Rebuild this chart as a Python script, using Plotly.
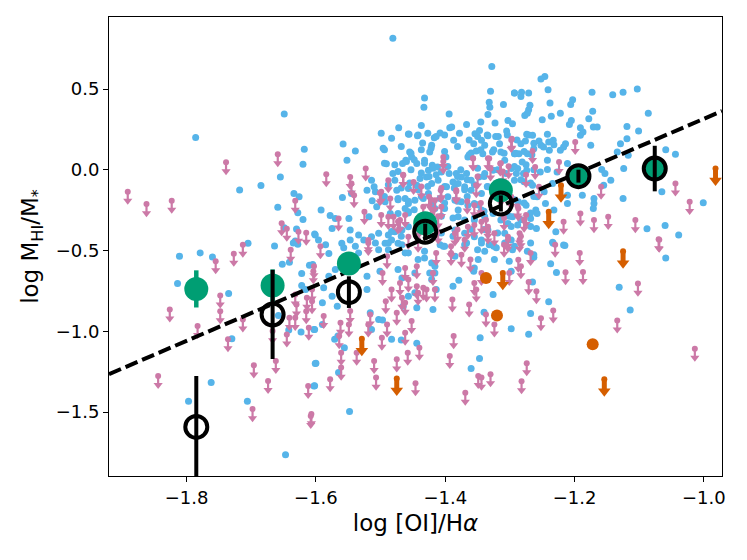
import plotly.graph_objects as go

# colours (seaborn colorblind)
BLUE = '#56B4E9'
PINK = '#CC79A7'
ORANGE = '#D55E00'
GREEN = '#009E73'

# detections (blue dots): (log [OI]/Ha, log MHI/M*)
blue_pts = [
    (-1.786, 0.200), (-1.649, 0.346), (-1.618, 0.128), (-1.620, 0.035), (-1.655, -0.045),
    (-1.685, -0.097), (-1.718, -0.125), (-1.634, -0.146), (-1.626, -0.167), (-1.659, -0.232),
    (-1.628, -0.265), (-1.620, -0.307), (-1.630, -0.366), (-1.649, -0.358), (-1.602, -0.397),
    (-1.705, -0.455), (-1.664, -0.471), (-1.632, -0.440), (-1.628, -0.460),
    (-1.811, -0.535), (-1.779, -0.514), (-1.760, -0.539), (-1.814, -0.704), (-1.735, -0.765),
    (-1.730, -1.045), (-1.762, -1.317), (-1.797, -1.432), (-1.706, -1.432), (-1.647, -1.763),
    (-1.652, -0.585), (-1.641, -0.572), (-1.622, -0.642), (-1.610, -0.591), (-1.622, -0.716),
    (-1.616, -0.741), (-1.658, -0.901), (-1.642, -0.992), (-1.623, -1.004), (-1.603, -0.988),
    (-1.601, -1.198), (-1.603, -1.338), (-1.635, -0.453),
    (-1.481, 0.814), (-1.328, 0.639), (-1.330, 0.487), (-1.293, 0.475), (-1.432, 0.444),
    (-1.433, 0.388), (-1.332, 0.419), (-1.331, 0.388), (-1.310, 0.405), (-1.334, 0.343),
    (-1.394, 0.345), (-1.472, 0.261), (-1.437, 0.275), (-1.456, 0.220), (-1.443, 0.211),
    (-1.393, 0.261), (-1.390, 0.265), (-1.367, 0.281), (-1.345, 0.296), (-1.323, 0.290),
    (-1.303, 0.306), (-1.558, 0.160), (-1.539, 0.117), (-1.552, 0.059), (-1.494, 0.125),
    (-1.491, 0.037), (-1.435, 0.166), (-1.417, 0.199), (-1.408, 0.228), (-1.387, 0.183),
    (-1.421, 0.152), (-1.354, 0.224), (-1.347, 0.244), (-1.334, 0.211), (-1.318, 0.207),
    (-1.305, 0.240), (-1.344, 0.183), (-1.339, 0.152), (-1.356, 0.162), (-1.360, 0.104),
    (-1.365, 0.080), (-1.352, 0.117), (-1.342, 0.100), (-1.327, 0.111), (-1.316, 0.162),
    (-1.314, 0.111), (-1.293, 0.100), (-1.455, 0.111), (-1.466, 0.039), (-1.461, 0.059),
    (-1.452, 0.080), (-1.444, 0.039), (-1.432, 0.059), (-1.424, 0.111), (-1.420, 0.028),
    (-1.412, 0.018), (-1.399, 0.080), (-1.426, -0.003), (-1.406, -0.013), (-1.394, -0.023),
    (-1.383, -0.023), (-1.375, -0.044), (-1.367, -0.023), (-1.360, -0.064), (-1.348, -0.044),
    (-1.339, -0.023), (-1.326, -0.003), (-1.308, 0.059), (-1.306, -0.023), (-1.298, 0.008),
    (-1.290, -0.023), (-1.514, -0.064), (-1.510, -0.105), (-1.521, -0.126), (-1.508, -0.136),
    (-1.481, -0.023), (-1.478, -0.064), (-1.475, -0.126), (-1.457, -0.116), (-1.444, -0.095),
    (-1.439, -0.054), (-1.429, -0.044), (-1.421, -0.085), (-1.411, -0.064), (-1.398, -0.105),
    (-1.388, -0.075), (-1.380, -0.085), (-1.370, -0.105), (-1.360, -0.126), (-1.344, -0.147),
    (-1.334, -0.105), (-1.559, -0.171), (-1.545, -0.147), (-1.513, -0.192), (-1.506, -0.229),
    (-1.493, -0.198), (-1.473, -0.177), (-1.462, -0.177), (-1.457, -0.208), (-1.447, -0.188),
    (-1.434, -0.177), (-1.426, -0.147), (-1.419, -0.208), (-1.408, -0.177), (-1.396, -0.167),
    (-1.385, -0.188), (-1.375, -0.198), (-1.365, -0.219), (-1.355, -0.208), (-1.344, -0.249),
    (-1.380, -0.249), (-1.401, -0.239), (-1.416, -0.239), (-1.462, -0.239), (-1.457, -0.260),
    (-1.473, -0.270), (-1.485, -0.270), (-1.592, -0.249), (-1.578, -0.282), (-1.570, -0.301),
    (-1.549, -0.301), (-1.518, -0.291), (-1.575, -0.363), (-1.547, -0.373), (-1.534, -0.404),
    (-1.526, -0.435), (-1.514, -0.414), (-1.503, -0.393), (-1.488, -0.404), (-1.478, -0.383),
    (-1.467, -0.373), (-1.457, -0.352), (-1.380, -0.291), (-1.370, -0.311), (-1.355, -0.311),
    (-1.339, -0.291), (-1.326, -0.270), (-1.314, -0.311), (-1.303, -0.332), (-1.296, -0.291),
    (-1.601, -0.404), (-1.596, -0.435), (-1.560, -0.455), (-1.547, -0.435), (-1.493, -0.455),
    (-1.483, -0.435), (-1.473, -0.455), (-1.385, -0.373), (-1.370, -0.393), (-1.355, -0.414),
    (-1.344, -0.435), (-1.334, -0.373), (-1.308, -0.393), (-1.298, -0.435),
    (-1.585, -0.463), (-1.580, -0.518), (-1.557, -0.483), (-1.539, -0.473), (-1.534, -0.514),
    (-1.508, -0.453), (-1.503, -0.494), (-1.488, -0.453), (-1.467, -0.463), (-1.457, -0.514),
    (-1.442, -0.555), (-1.432, -0.545), (-1.421, -0.576), (-1.408, -0.463), (-1.403, -0.473),
    (-1.367, -0.453), (-1.344, -0.453), (-1.332, -0.463), (-1.321, -0.483), (-1.308, -0.453),
    (-1.296, -0.494), (-1.339, -0.504), (-1.324, -0.555), (-1.385, -0.535), (-1.349, -0.555),
    (-1.355, -0.607), (-1.301, -0.566), (-1.298, -0.627), (-1.605, -0.586), (-1.580, -0.658),
    (-1.570, -0.617), (-1.521, -0.658), (-1.501, -0.627), (-1.473, -0.617), (-1.467, -0.669),
    (-1.447, -0.638), (-1.424, -0.638), (-1.416, -0.597), (-1.588, -0.730), (-1.575, -0.782),
    (-1.567, -0.844), (-1.590, -0.823), (-1.521, -0.741), (-1.457, -0.782), (-1.447, -0.761),
    (-1.465, -0.844), (-1.444, -0.854), (-1.419, -0.864), (-1.414, -0.741), (-1.388, -0.720),
    (-1.379, -0.683), (-1.516, -0.885), (-1.503, -0.926), (-1.497, -0.930), (-1.514, -0.988),
    (-1.590, -0.957), (-1.602, -0.988), (-1.571, -1.049), (-1.566, -1.029), (-1.556, -1.101),
    (-1.483, -1.049), (-1.468, -1.053), (-1.444, -1.074), (-1.600, -1.197), (-1.565, -1.255),
    (-1.602, -1.337), (-1.548, -1.496), (-1.356, -0.627), (-1.326, -0.772), (-1.340, -0.881),
    (-1.298, -0.983), (-1.346, -1.039), (-1.347, -1.167), (-1.360, -1.230), (-1.416, -0.638),
    (-1.421, -0.679),
    (-1.252, 0.563), (-1.246, 0.578), (-1.293, 0.475), (-1.282, 0.481), (-1.271, 0.475),
    (-1.283, 0.454), (-1.241, 0.495), (-1.173, 0.481), (-1.141, 0.465), (-1.125, 0.481),
    (-1.103, 0.500), (-1.238, 0.413), (-1.269, 0.399), (-1.271, 0.372), (-1.203, 0.434),
    (-1.206, 0.405), (-1.172, 0.362), (-1.086, 0.351), (-1.277, 0.337), (-1.273, 0.351),
    (-1.236, 0.331), (-1.222, 0.351), (-1.250, 0.310), (-1.205, 0.306), (-1.208, 0.281),
    (-1.178, 0.316), (-1.171, 0.265), (-1.165, 0.265), (-1.191, 0.261), (-1.187, 0.234),
    (-1.191, 0.214), (-1.119, 0.269), (-1.101, 0.240), (-1.296, 0.286), (-1.274, 0.220),
    (-1.265, 0.214), (-1.276, 0.179), (-1.283, 0.162), (-1.255, 0.179), (-1.252, 0.152),
    (-1.242, 0.220), (-1.240, 0.172), (-1.233, 0.183), (-1.232, 0.156), (-1.248, 0.142),
    (-1.263, 0.131), (-1.214, 0.162), (-1.217, 0.142), (-1.222, 0.121), (-1.239, 0.121),
    (-1.292, 0.100), (-1.286, 0.100), (-1.273, 0.100), (-1.175, 0.152), (-1.129, 0.162),
    (-1.119, 0.193), (-1.134, 0.111), (-1.117, 0.090), (-1.059, 0.125), (-1.044, 0.097),
    (-1.281, 0.049), (-1.288, 0.008), (-1.274, -0.002), (-1.279, -0.023), (-1.242, 0.059),
    (-1.211, 0.039), (-1.242, 0.002), (-1.253, -0.013), (-1.227, -0.013), (-1.158, 0.002),
    (-1.153, -0.023), (-1.144, -0.064), (-1.124, 0.008), (-1.278, -0.074), (-1.293, -0.064),
    (-1.265, -0.095), (-1.234, -0.085), (-1.247, -0.136), (-1.258, -0.167), (-1.275, -0.219),
    (-1.287, -0.198), (-1.260, -0.249), (-1.258, -0.270), (-1.245, -0.208), (-1.232, -0.249),
    (-1.211, -0.157), (-1.211, -0.208), (-1.188, -0.157), (-1.170, -0.177), (-1.170, -0.208),
    (-1.171, -0.239), (-1.155, -0.095), (-1.125, -0.177), (-1.065, -0.136), (-1.001, -0.204),
    (-1.288, -0.342), (-1.268, -0.301), (-1.259, -0.363), (-1.229, -0.383), (-1.217, -0.465),
    (-1.233, -0.455), (-1.088, -0.365), (-1.060, -0.344), (-1.039, -0.404),
    (-1.234, -0.448), (-1.215, -0.469), (-1.273, -0.504), (-1.263, -0.541), (-1.237, -0.582),
    (-1.228, -0.636), (-1.059, -0.545), (-1.265, -0.695), (-1.240, -0.817), (-1.268, -0.889),
    (-1.271, -1.018), (-1.131, -0.726), (-1.114, -0.868),
    # dense centre
    (-1.499, 0.226), (-1.483, 0.196), (-1.457, 0.222), (-1.442, 0.216), (-1.427, 0.226),
    (-1.414, 0.206), (-1.401, 0.216), (-1.378, 0.226), (-1.363, 0.185), (-1.350, 0.206),
    (-1.335, 0.216), (-1.322, 0.206), (-1.304, 0.216), (-1.289, 0.185), (-1.271, 0.216),
    (-1.263, 0.165), (-1.496, 0.134), (-1.468, 0.144), (-1.453, 0.103), (-1.437, 0.124),
    (-1.422, 0.134), (-1.401, 0.113), (-1.381, 0.144), (-1.363, 0.093), (-1.345, 0.124),
    (-1.325, 0.124), (-1.309, 0.103), (-1.291, 0.103), (-1.278, 0.113), (-1.266, 0.093),
    (-1.494, 0.041), (-1.478, 0.031), (-1.460, 0.052), (-1.448, 0.062), (-1.432, 0.041),
    (-1.419, 0.010), (-1.414, -0.031), (-1.425, -0.041), (-1.437, -0.020), (-1.453, 0.000),
    (-1.473, -0.010), (-1.396, 0.021), (-1.376, 0.000), (-1.381, -0.041), (-1.366, -0.062),
    (-1.350, 0.010), (-1.340, -0.041), (-1.319, 0.000), (-1.293, 0.021), (-1.275, 0.031),
    (-1.263, 0.000), (-1.488, -0.093), (-1.468, -0.113), (-1.455, -0.082), (-1.442, -0.123),
    (-1.427, -0.103), (-1.401, -0.103), (-1.386, -0.113), (-1.370, -0.123), (-1.355, -0.093),
    (-1.335, -0.103), (-1.319, -0.082), (-1.283, -0.062), (-1.268, -0.082), (-1.494, -0.165),
    (-1.473, -0.185), (-1.457, -0.195), (-1.437, -0.165), (-1.422, -0.226), (-1.401, -0.206),
    (-1.381, -0.195), (-1.366, -0.165), (-1.350, -0.216), (-1.293, -0.185), (-1.278, -0.206),
    (-1.263, -0.165), (-1.457, -0.267), (-1.448, -0.247), (-1.406, -0.288), (-1.388, -0.298),
    (-1.355, -0.298), (-1.340, -0.257), (-1.301, -0.288), (-1.283, -0.309), (-1.268, -0.267),
    (-1.483, -0.381), (-1.468, -0.411), (-1.406, -0.391), (-1.388, -0.411), (-1.360, -0.370),
    (-1.340, -0.370), (-1.319, -0.391), (-1.298, -0.350), (-1.268, -0.350), (-1.488, -0.494),
    (-1.462, -0.514), (-1.432, -0.504), (-1.401, -0.473), (-1.370, -0.463), (-1.350, -0.494),
    (-1.325, -0.473), (-1.293, -0.473), (-1.268, -0.453), (-1.263, -0.525),
]

# upper limits (pink arrows)
pink_pts = [
    (-1.891, -0.136), (-1.862, -0.212), (-1.823, -0.191), (-1.739, 0.047), (-1.659, 0.097),
    (-1.632, -0.191), (-1.653, -0.331), (-1.645, -0.364), (-1.627, -0.383), (-1.615, -0.389),
    (-1.755, -0.566), (-1.727, -0.519), (-1.713, -0.463), (-1.826, -0.864), (-1.748, -0.778),
    (-1.748, -0.875), (-1.783, -0.967), (-1.713, -0.926), (-1.736, -1.049), (-1.844, -1.276),
    (-1.696, -1.210), (-1.674, -1.307), (-1.698, -1.481), (-1.662, -1.183), (-1.645, -1.019),
    (-1.667, -0.998), (-1.632, -0.772), (-1.630, -0.833), (-1.641, -0.916), (-1.632, -0.916),
    (-1.615, -0.875), (-1.611, -0.977), (-1.614, -0.792), (-1.604, -0.628), (-1.639, -0.494),
    (-1.612, -1.338), (-1.608, -1.523),
    (-1.584, -0.027), (-1.547, -0.044), (-1.545, -0.085), (-1.541, -0.157), (-1.523, 0.008),
    (-1.488, -0.064), (-1.499, -0.136), (-1.485, -0.177), (-1.465, -0.033), (-1.449, -0.075),
    (-1.425, -0.167), (-1.403, 0.080), (-1.407, -0.126), (-1.383, -0.126), (-1.357, 0.070),
    (-1.352, -0.095), (-1.355, -0.219), (-1.332, 0.070), (-1.330, 0.008), (-1.315, 0.039),
    (-1.302, 0.022), (-1.297, 0.193), (-1.314, -0.147), (-1.525, -0.260), (-1.565, -0.301),
    (-1.499, -0.280), (-1.488, -0.291), (-1.480, -0.291), (-1.470, -0.311), (-1.462, -0.280),
    (-1.434, -0.229), (-1.416, -0.188), (-1.420, -0.270), (-1.406, -0.229), (-1.385, -0.393),
    (-1.365, -0.352), (-1.355, -0.342), (-1.344, -0.321), (-1.334, -0.352), (-1.324, -0.393),
    (-1.303, -0.414), (-1.298, -0.167), (-1.519, -0.435), (-1.457, -0.414),
    (-1.593, -0.473), (-1.603, -0.597), (-1.606, -0.741), (-1.606, -0.813), (-1.588, -0.905),
    (-1.562, -0.946), (-1.549, -0.957), (-1.564, -1.029), (-1.561, -1.132), (-1.537, -1.132),
    (-1.561, -1.224), (-1.578, -1.296), (-1.607, -1.512), (-1.547, -0.874), (-1.516, -0.895),
    (-1.519, -0.957), (-1.498, -1.039), (-1.490, -0.957), (-1.492, -0.813), (-1.475, -0.885),
    (-1.452, -0.936), (-1.462, -1.008), (-1.458, -1.132), (-1.440, -1.101), (-1.475, -1.173),
    (-1.510, -1.183), (-1.507, -1.286), (-1.446, -1.321), (-1.497, -0.638), (-1.483, -0.741),
    (-1.467, -0.792), (-1.462, -0.823), (-1.470, -0.700), (-1.457, -0.679), (-1.444, -0.720),
    (-1.434, -0.730), (-1.429, -0.741), (-1.442, -0.761), (-1.416, -0.741), (-1.419, -0.638),
    (-1.414, -0.514), (-1.444, -0.597), (-1.462, -0.607), (-1.490, -0.535), (-1.519, -0.453),
    (-1.391, -0.473), (-1.375, -0.525), (-1.361, -0.555), (-1.389, -0.802), (-1.363, -0.833),
    (-1.355, -0.700), (-1.352, -0.741), (-1.344, -0.638), (-1.303, -0.432), (-1.301, -0.638),
    (-1.337, -0.895), (-1.324, -0.957), (-1.387, -1.029), (-1.393, -1.152), (-1.349, -1.276),
    (-1.344, -1.286), (-1.330, -1.265), (-1.369, -1.379),
    (-1.199, 0.172), (-1.265, 0.117), (-1.261, 0.018), (-1.224, 0.049), (-1.255, -0.105),
    (-1.287, -0.239), (-1.275, -0.280), (-1.217, -0.321), (-1.191, -0.270), (-1.170, -0.311),
    (-1.159, -0.105), (-1.148, -0.291), (-1.106, -0.311), (-1.044, -0.085), (-1.022, -0.198),
    (-1.285, -0.393), (-1.070, -0.430),
    (-1.285, -0.432), (-1.230, -0.463), (-1.287, -0.556), (-1.283, -0.597), (-1.192, -0.514),
    (-1.214, -0.634), (-1.187, -0.632), (-1.069, -0.432), (-1.271, -0.695), (-1.259, -0.751),
    (-1.233, -0.870), (-1.252, -0.918), (-1.134, -0.932), (-1.102, -0.704), (-1.014, -1.107),
    (-1.274, -1.197), (-1.282, -1.309),
    # dense centre
    (-1.403, 0.052), (-1.357, 0.072), (-1.334, 0.072), (-1.314, 0.041), (-1.298, 0.185),
    (-1.311, -0.010), (-1.465, -0.031), (-1.501, -0.144), (-1.437, -0.103), (-1.406, -0.113),
    (-1.383, -0.134), (-1.350, -0.041), (-1.306, -0.093), (-1.275, -0.031), (-1.422, -0.185),
    (-1.366, -0.195), (-1.345, -0.206), (-1.288, -0.226), (-1.473, -0.319), (-1.442, -0.350),
    (-1.411, -0.288), (-1.337, -0.309), (-1.309, -0.298), (-1.278, -0.309), (-1.411, -0.381),
    (-1.381, -0.370), (-1.334, -0.381), (-1.283, -0.411), (-1.442, -0.432), (-1.370, -0.432),
    (-1.309, -0.463), (-1.391, -0.514), (-1.268, -0.514),
]

# orange sample: detections and upper limits
orange_det = [(-1.337, -0.669), (-1.320, -0.901), (-1.172, -1.080)]
orange_lim = [(-1.311, -0.638), (-1.529, -1.045), (-1.475, -1.292), (-1.221, -0.095),
              (-1.240, -0.260), (-0.982, 0.008), (-1.125, -0.504), (-1.154, -1.296)]

# binned medians
bin_x = [-1.785, -1.667, -1.549, -1.431, -1.314, -1.194, -1.076]
det_med = [-0.737, -0.716, -0.580, -0.331, -0.126, -0.039, 0.008]
det_err = [0.115, 0.100, 0.050, 0.040, 0.040, 0.030, 0.030]
all_med = [-1.591, -0.895, -0.757, -0.383, -0.208, -0.039, 0.008]
all_err = [0.315, 0.276, 0.098, 0.050, 0.050, 0.040, 0.141]

# linear fit
fit_slope = 1.718
fit_intercept = 2.034

x_range = [-1.920, -0.972]
y_range = [-1.895, 0.946]


def add_arrows(fig, pts, color, stem, head_off, head_size, stem_w):
    xs = [p[0] for p in pts]
    ys = [p[1] for p in pts]
    n = len(pts)
    fig.add_trace(go.Scatter(
        x=xs, y=ys, mode='markers',
        marker=dict(size=0, color=color),
        error_y=dict(type='data', symmetric=False, array=[0] * n,
                     arrayminus=[stem] * n, color=color,
                     thickness=stem_w, width=0)))
    fig.add_trace(go.Scatter(
        x=xs, y=[y - head_off for y in ys], mode='markers',
        marker=dict(symbol='triangle-down', size=head_size, color=color,
                    line=dict(width=0))))


fig = go.Figure()

fig.add_trace(go.Scatter(
    x=[p[0] for p in blue_pts], y=[p[1] for p in blue_pts], mode='markers',
    marker=dict(size=7, color=BLUE, line=dict(width=0))))

add_arrows(fig, pink_pts, PINK, 0.05, 0.056, 8, 2.2)

fig.add_trace(go.Scatter(
    x=[p[0] for p in orange_det], y=[p[1] for p in orange_det], mode='markers',
    marker=dict(size=12, color=ORANGE, line=dict(width=0))))
add_arrows(fig, orange_lim, ORANGE, 0.07, 0.074, 11, 5)

# fit line
fig.add_trace(go.Scatter(
    x=x_range, y=[fit_slope * v + fit_intercept for v in x_range], mode='lines',
    line=dict(color='black', width=4, dash='13px,5px')))

fig.add_trace(go.Scatter(
    x=bin_x, y=det_med, mode='markers',
    marker=dict(size=24, color=GREEN, line=dict(width=0)),
    error_y=dict(type='data', array=det_err, color=GREEN, thickness=4.5, width=0)))

fig.add_trace(go.Scatter(
    x=bin_x, y=all_med, mode='markers',
    marker=dict(size=22, color='rgba(0,0,0,0)', line=dict(color='black', width=4)),
    error_y=dict(type='data', array=all_err, color='black', thickness=4, width=0)))

axis_common = dict(
    showline=True, mirror=True, linecolor='black', linewidth=1.1,
    ticks='outside', ticklen=5, tickwidth=1.1, tickcolor='black',
    showgrid=False, zeroline=False, tickformat='.1f',
    tickfont=dict(size=18, color='black'),
)

# the page body adds an 8px offset, so the figure is 16px smaller than the window
fig.update_layout(
    width=731, height=544,
    margin=dict(l=101, r=17, t=9, b=76),
    plot_bgcolor='white', paper_bgcolor='white',
    font=dict(family='DejaVu Sans', color='black'),
    showlegend=False,
    xaxis=dict(range=x_range, tickvals=[-1.8, -1.6, -1.4, -1.2, -1.0],
               title=dict(text='log [OI]/H<i>α</i>', font=dict(size=23), standoff=8),
               **axis_common),
    yaxis=dict(range=y_range, tickvals=[-1.5, -1.0, -0.5, 0.0, 0.5],
               title=dict(text='log M<sub>HI</sub>/M<sub>*</sub>', font=dict(size=23), standoff=10),
               **axis_common),
)

fig.write_html("out.html")
